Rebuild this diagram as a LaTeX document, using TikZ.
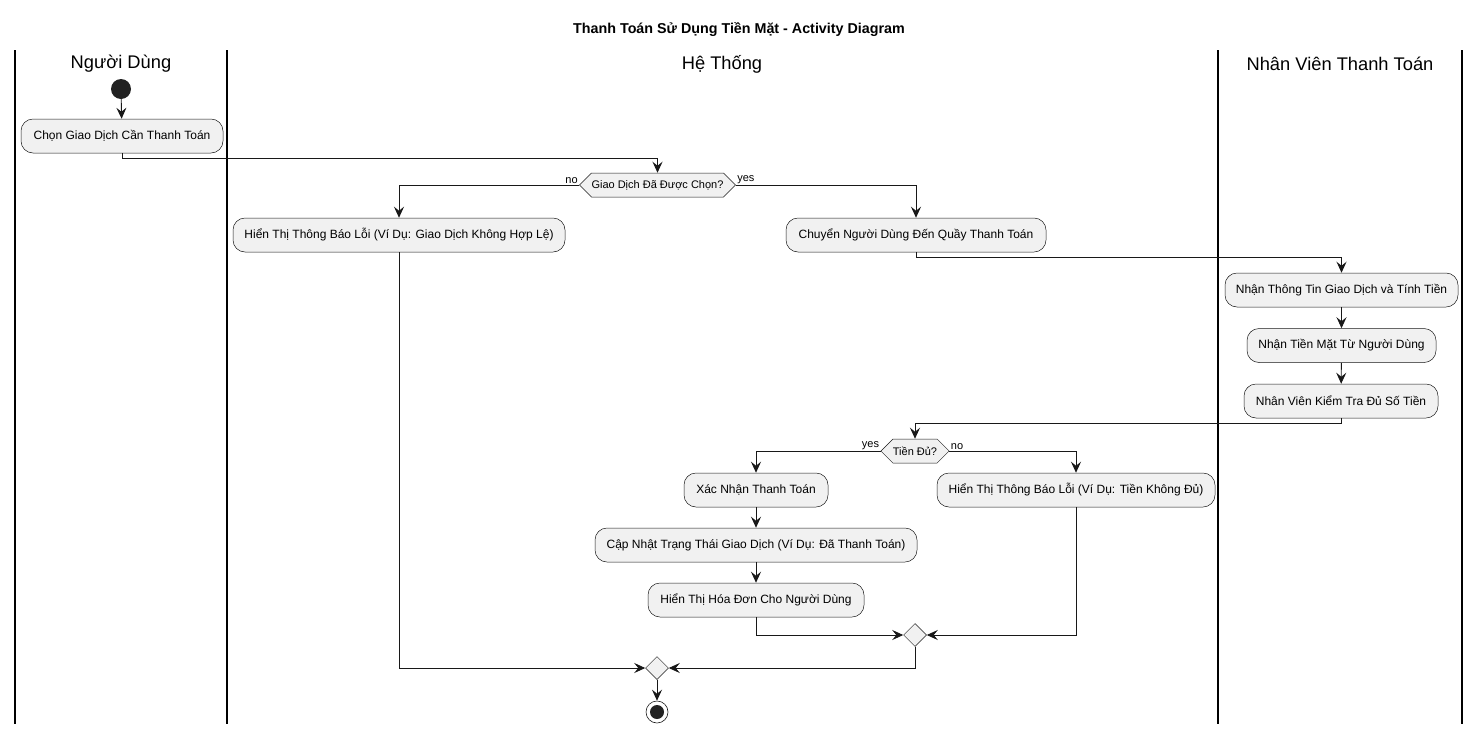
\documentclass[tikz,border=0pt]{standalone}
\usepackage{fontspec}
\setmainfont{Liberation Sans}
\usetikzlibrary{arrows.meta,shapes.symbols,shapes.geometric}
\definecolor{boxfill}{HTML}{F1F1F1}
\definecolor{ink}{HTML}{181818}
\definecolor{dot}{HTML}{222222}
\tikzset{
  act/.style={draw=ink, line width=0.5pt, fill=boxfill, rounded corners=12pt,
    minimum height=34pt, inner sep=0pt, font=\fontsize{12}{14}\selectfont},
  dec/.style={draw=ink, line width=0.5pt, fill=boxfill, signal, signal to=east and west,
    signal pointer angle=90, minimum height=24pt, inner sep=0pt, font=\fontsize{11}{12}\selectfont},
  merge/.style={draw=ink, line width=0.5pt, fill=boxfill, diamond, minimum size=23pt, inner sep=0pt},
  arr/.style={draw=ink, line width=0.9pt, -{Stealth[length=11pt,width=10pt,inset=4pt]}},
  lane/.style={draw=black, line width=1.5pt},
  lanetitle/.style={font=\fontsize{18.3}{21}\selectfont},
  lbl/.style={font=\fontsize{11}{12}\selectfont, inner sep=1pt},
}
\begin{document}
\begin{tikzpicture}[x=1pt,y=-1pt]
\useasboundingbox (0,0) rectangle (1480,734);
% title
\node[font=\bfseries\fontsize{14.3}{16}\selectfont] (title) at (739,30) {Thanh Toán Sử Dụng Tiền Mặt - Activity Diagram};
% swimlanes
\draw[lane] (15,50) -- (15,724);
\draw[lane] (227,50) -- (227,724);
\draw[lane] (1218,50) -- (1218,724);
\draw[lane] (1462,50) -- (1462,724);
\node[lanetitle] (l1) at (121,64) {Người Dùng};
\node[lanetitle] (l2) at (722,64) {Hệ Thống};
\node[lanetitle] (l3) at (1340,64) {Nhân Viên Thanh Toán};
% nodes
\node[circle, fill=dot, minimum size=20pt, inner sep=0pt] (start) at (121,89) {};
\node[act, minimum width=202pt] (c1) at (122,136) {Chọn Giao Dịch Cần Thanh Toán};
\node[dec, minimum width=150pt] (d1) at (657.5,185) {Giao Dịch Đã Được Chọn?};
\node[act, minimum width=332pt] (e1) at (399,235) {Hiển Thị Thông Báo Lỗi (Ví Dụ: Giao Dịch Không Hợp Lệ)};
\node[act, minimum width=260pt] (cu) at (916,235) {Chuyển Người Dùng Đến Quầy Thanh Toán};
\node[act, minimum width=233pt] (n1) at (1341.5,290) {Nhận Thông Tin Giao Dịch và Tính Tiền};
\node[act, minimum width=189pt] (n2) at (1341.5,345.5) {Nhận Tiền Mặt Từ Người Dùng};
\node[act, minimum width=194pt] (n3) at (1341,401) {Nhân Viên Kiểm Tra Đủ Số Tiền};
\node[dec, minimum width=68pt] (d2) at (915,451) {Tiền Đủ?};
\node[act, minimum width=144pt] (x1) at (756,490) {Xác Nhận Thanh Toán};
\node[act, minimum width=278pt] (t2) at (1076,490) {Hiển Thị Thông Báo Lỗi (Ví Dụ: Tiền Không Đủ)};
\node[act, minimum width=322pt] (x2) at (756,545) {Cập Nhật Trạng Thái Giao Dịch (Ví Dụ: Đã Thanh Toán)};
\node[act, minimum width=216pt] (x3) at (756,600) {Hiển Thị Hóa Đơn Cho Người Dùng};
\node[merge] (m1) at (915,635) {};
\node[merge] (m2) at (657,668) {};
\node[circle, draw=ink, line width=0.6pt, fill=white, minimum size=22pt, inner sep=0pt] (stop) at (657,712) {};
\fill[dot] (stop.center) circle (7pt);
% connectors
\draw[arr] (start) -- (c1);
\draw[arr] (c1.south) -- ++(0,5) -| (d1.north);
\draw[arr] (d1.west) node[lbl, anchor=south east] {no} -| (e1.north);
\draw[arr] (d1.east) node[lbl, anchor=south west] {yes} -| (cu.north);
\draw[arr] (cu.south) -- ++(0,5) -| (n1.north);
\draw[arr] (n1) -- (n2);
\draw[arr] (n2) -- (n3);
\draw[arr] (n3.south) -- ++(0,5) -| (d2.north);
\draw[arr] (d2.west) node[lbl, anchor=south east] {yes} -| (x1.north);
\draw[arr] (d2.east) node[lbl, anchor=south west] {no} -| (t2.north);
\draw[arr] (x1) -- (x2);
\draw[arr] (x2) -- (x3);
\draw[arr] (x3.south) |- (m1.west);
\draw[arr] (t2.south) |- (m1.east);
\draw[arr] (m1.south) |- (m2.east);
\draw[arr] (e1.south) |- (m2.west);
\draw[arr] (m2.south) -- (stop.north);
\end{tikzpicture}
\end{document}
